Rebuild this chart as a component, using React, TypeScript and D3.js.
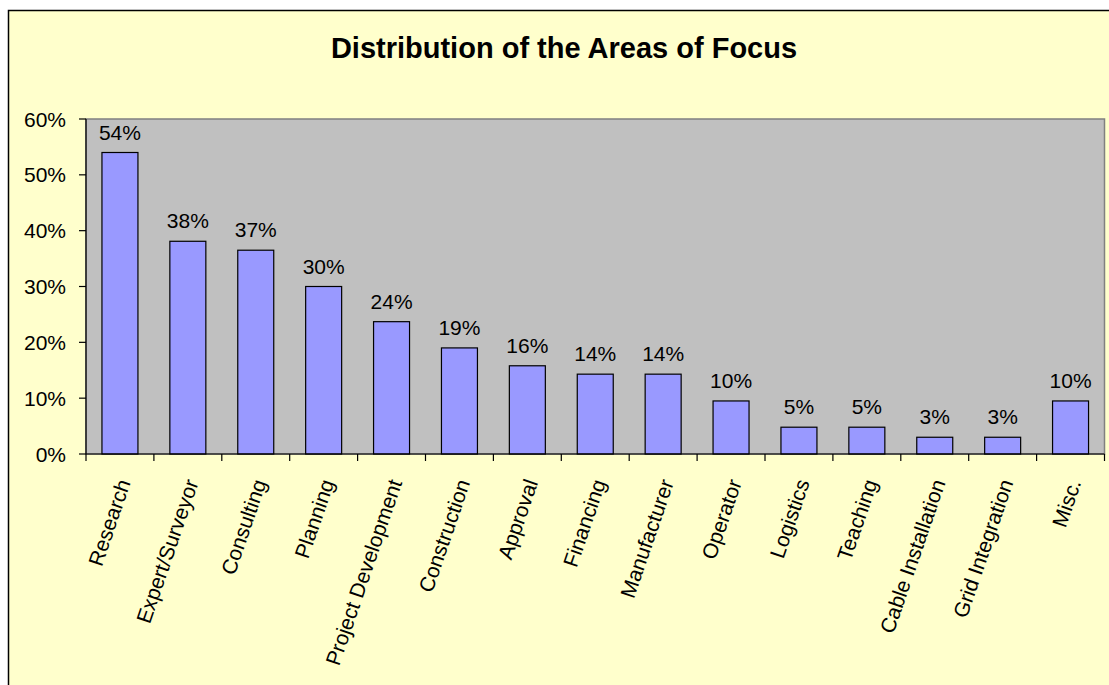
import React from 'react';
import * as d3 from 'd3';

const categories = [
  'Research', 'Expert/Surveyor', 'Consulting', 'Planning', 'Project Development',
  'Construction', 'Approval', 'Financing', 'Manufacturer', 'Operator',
  'Logistics', 'Teaching', 'Cable Installation', 'Grid Integration', 'Misc.',
];
const shares = [54.0, 38.1, 36.5, 30.0, 23.7, 19.0, 15.8, 14.3, 14.3, 9.5, 4.8, 4.8, 3.0, 3.0, 9.5];
const barLabels = ['54%', '38%', '37%', '30%', '24%', '19%', '16%', '14%', '14%', '10%', '5%', '5%', '3%', '3%', '10%'];
const yTicks = [0, 10, 20, 30, 40, 50, 60];

const W = 1109;
const H = 685;
const font = 'Arial, "Liberation Sans", sans-serif';

export default function App() {
  // plot area
  const left = 86;
  const right = 1104.5;
  const top = 119;
  const bottom = 454;

  const x = d3.scaleBand<string>().domain(categories).range([left, right]).paddingInner(0).paddingOuter(0);
  const y = d3.scaleLinear().domain([0, 60]).range([bottom, top]);
  const barW = x.bandwidth() * 0.53;

  return (
    <svg width={W} height={H} style={{ position: 'absolute', left: 0, top: 0 }} fontFamily={font}>
      <rect x={0} y={0} width={W} height={H} fill="#ffffff" />
      <rect x={8.5} y={10.5} width={W + 10} height={H + 10} fill="#ffffcc" stroke="#000" strokeWidth={1.5} />

      <text x={564} y={58} textAnchor="middle" fontSize={29} fontWeight="bold" fill="#000">
        Distribution of the Areas of Focus
      </text>

      <rect x={left} y={top} width={right - left} height={bottom - top} fill="#c0c0c0" stroke="#808080" strokeWidth={1.5} />

      {categories.map((c, i) => {
        const cx = (x(c) as number) + x.bandwidth() / 2;
        return (
          <g key={c}>
            <rect x={cx - barW / 2} y={y(shares[i])} width={barW} height={bottom - y(shares[i])} fill="#9999ff" stroke="#000" strokeWidth={1.2} />
            <text x={cx} y={y(shares[i]) - 13} textAnchor="middle" fontSize={21} fill="#000">{barLabels[i]}</text>
            <text transform={`translate(${cx + 4},${480}) rotate(-71)`} textAnchor="end" dy="0.35em" fontSize={21} fill="#000">{c}</text>
          </g>
        );
      })}

      {/* axes */}
      <line x1={left} x2={left} y1={top} y2={bottom} stroke="#000" strokeWidth={1.2} />
      <line x1={left} x2={right} y1={bottom} y2={bottom} stroke="#000" strokeWidth={1.2} />
      {yTicks.map((t) => (
        <g key={t}>
          <line x1={left - 7} x2={left} y1={y(t)} y2={y(t)} stroke="#000" strokeWidth={1.2} />
          <text x={66} y={y(t)} dy="0.36em" textAnchor="end" fontSize={21} fill="#000">{t}%</text>
        </g>
      ))}
      {[...categories.map((c) => x(c) as number), right].map((tx, i) => (
        <line key={i} x1={tx} x2={tx} y1={bottom} y2={bottom + 7} stroke="#000" strokeWidth={1.2} />
      ))}
    </svg>
  );
}
